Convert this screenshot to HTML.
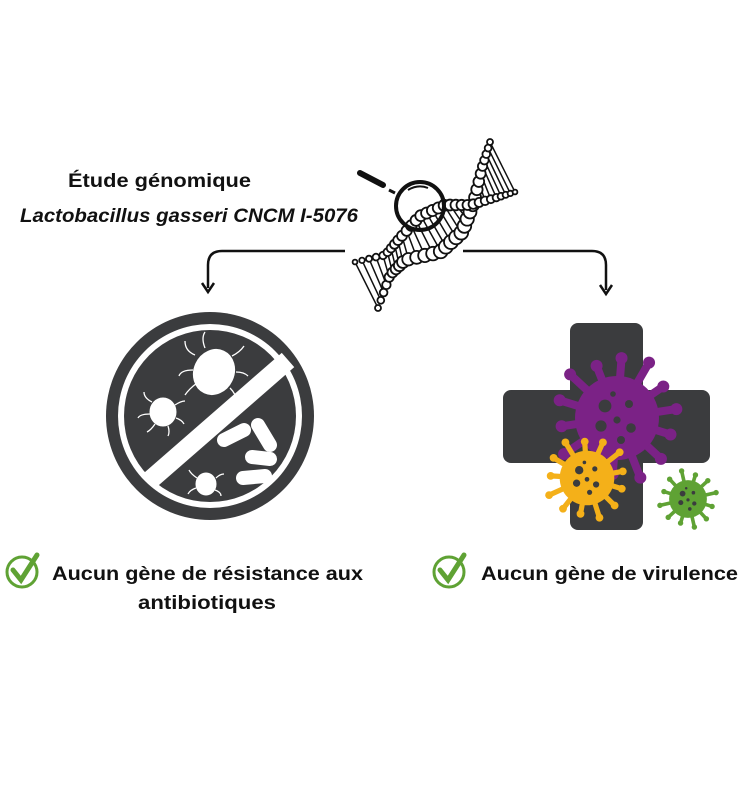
<!DOCTYPE html>
<html><head><meta charset="utf-8"><style>
html,body{margin:0;padding:0;background:#fff;}
svg{display:block;}
text{font-family:"Liberation Sans",sans-serif;font-weight:bold;fill:#111;}
</style></head><body>
<svg id="s" width="750" height="800" viewBox="0 0 750 800" xmlns="http://www.w3.org/2000/svg">
<text x="68" y="187" font-size="19" textLength="183" lengthAdjust="spacingAndGlyphs">Étude génomique</text>
<text x="20" y="222" font-size="19" font-style="italic" textLength="338" lengthAdjust="spacingAndGlyphs">Lactobacillus gasseri CNCM I-5076</text>

<path d="M345 251 H222 Q208 251 208 265 V288" fill="none" stroke="#111" stroke-width="2.5"/>
<path d="M202 283 L208 292 L214 283" fill="none" stroke="#111" stroke-width="2.5"/>
<path d="M463 251 H592 Q606 251 606 265 V290" fill="none" stroke="#111" stroke-width="2.5"/>
<path d="M600 285 L606 294 L612 285" fill="none" stroke="#111" stroke-width="2.5"/>

<g id="dna" fill="#fff" stroke="#111" stroke-width="1.8"></g>
<circle cx="420" cy="206" r="24" fill="none" stroke="#111" stroke-width="4"/>
<path d="M408 190 Q418 184 428 188" fill="none" stroke="#111" stroke-width="2"/>
<line x1="360" y1="173" x2="383" y2="185" stroke="#111" stroke-width="6" stroke-linecap="round"/>
<line x1="389" y1="190" x2="395" y2="193" stroke="#111" stroke-width="3"/>

<circle cx="210" cy="416" r="104" fill="#3b3c3e"/>
<circle cx="210" cy="416" r="92" fill="#fff"/>
<circle cx="210" cy="416" r="86" fill="#3b3c3e"/>
<line x1="288" y1="360" x2="148" y2="482" stroke="#fff" stroke-width="19"/>
<g fill="#fff" stroke="#fff">
<ellipse cx="214" cy="372" rx="20" ry="23" transform="rotate(25 214 372)"/>
<ellipse cx="163" cy="412" rx="13" ry="14"/>
<ellipse cx="206" cy="484" rx="10" ry="11"/>
<g fill="none" stroke-width="1.3">
<path d="M195 355 q-10 -4 -10 -14 M193 370 q-12 0 -14 6 M197 383 q-8 6 -12 12 M232 356 q8 -4 12 -10 M236 372 q8 0 12 4 M230 388 q6 6 6 12 M205 348 q-4 -10 0 -16"/>
<path d="M152 402 q-8 -4 -8 -10 M150 414 q-10 0 -12 4 M155 424 q-4 6 -8 8 M175 405 q6 -4 10 -4 M176 418 q6 2 8 6 M168 426 q2 6 0 10"/>
<path d="M197 478 q-6 -4 -8 -8 M196 488 q-6 2 -8 6 M216 478 q4 -4 8 -4 M215 490 q6 2 6 6"/>
</g>
</g>
<g stroke="#fff" stroke-width="14" stroke-linecap="round">
<line x1="224" y1="440" x2="244" y2="430"/>
<line x1="258" y1="425" x2="270" y2="445"/>
<line x1="252" y1="457" x2="270" y2="459"/>
<line x1="243" y1="478" x2="265" y2="476"/>
</g>

<rect x="570" y="323" width="73" height="207" rx="8" fill="#3b3c3e"/>
<rect x="503" y="390" width="207" height="73" rx="8" fill="#3b3c3e"/>
<g id="vir"></g>

<g fill="none" stroke="#5fa234">
<circle cx="22" cy="572" r="15" stroke-width="3"/>
<path d="M13 570 L21 580 L37 555" stroke-width="5" stroke-linecap="round"/>
<circle cx="449" cy="572" r="15" stroke-width="3"/>
<path d="M440 570 L448 580 L464 555" stroke-width="5" stroke-linecap="round"/>
</g>
<text x="52" y="580" font-size="19" textLength="311" lengthAdjust="spacingAndGlyphs">Aucun gène de résistance aux</text>
<text x="138" y="609" font-size="19" textLength="138" lengthAdjust="spacingAndGlyphs">antibiotiques</text>
<text x="481" y="580" font-size="19" textLength="257" lengthAdjust="spacingAndGlyphs">Aucun gène de virulence</text>
</svg>
<script>
var NS="http://www.w3.org/2000/svg";
function el(p,t,a){var e=document.createElementNS(NS,t);for(var k in a)e.setAttribute(k,a[k]);p.appendChild(e);return e;}
function interp(pts,t){var n=pts.length-1,f=t*n,i=Math.min(Math.floor(f),n-1),u=f-i;return[pts[i][0]+(pts[i+1][0]-pts[i][0])*u,pts[i][1]+(pts[i+1][1]-pts[i][1])*u];}
var d=document.getElementById("dna");
var A=[[378,308],[390,275],[405,260],[440,252],[462,232],[474,202],[482,168],[490,142]];
var B=[[355,262],[385,255],[400,238],[420,216],[445,205],[470,205],[495,198],[515,192]];
var N=30;
for(var i=0;i<=N;i++){var a=interp(A,i/N),b=interp(B,i/N);el(d,"line",{x1:a[0],y1:a[1],x2:b[0],y2:b[1],"stroke-width":1.5});}
for(var i=0;i<=N;i++){var t=i/N,a=interp(A,t),b=interp(B,t);var r=3+4*Math.sin(Math.PI*t);el(d,"circle",{cx:a[0],cy:a[1],r:r});el(d,"circle",{cx:b[0],cy:b[1],r:r*0.8});}
var v=document.getElementById("vir");
function virus(cx,cy,r,col,n){
 for(var i=0;i<n;i++){var ang=i*2*Math.PI/n+0.3,L=r*(1.4+0.1*((i*7)%3));
  el(v,"line",{x1:cx,y1:cy,x2:cx+Math.cos(ang)*L,y2:cy+Math.sin(ang)*L,stroke:col,"stroke-width":r*0.2});
  el(v,"circle",{cx:cx+Math.cos(ang)*L,cy:cy+Math.sin(ang)*L,r:r*0.15,fill:col});}
 el(v,"circle",{cx:cx,cy:cy,r:r*1.05,fill:col});
 var h=[[-0.3,-0.3,0.16],[0.3,-0.35,0.1],[0.35,0.25,0.12],[-0.4,0.2,0.14],[0,0.05,0.09],[0.1,0.55,0.1],[-0.1,-0.6,0.07]];
 h.forEach(function(q){el(v,"circle",{cx:cx+q[0]*r,cy:cy+q[1]*r,r:q[2]*r,fill:"#3b3c3e"});});
}
virus(617,418,40,"#7b2286",14);
virus(587,478,26,"#f4b019",13);
virus(688,499,18,"#5fa234",12);
</script>
</body></html>
